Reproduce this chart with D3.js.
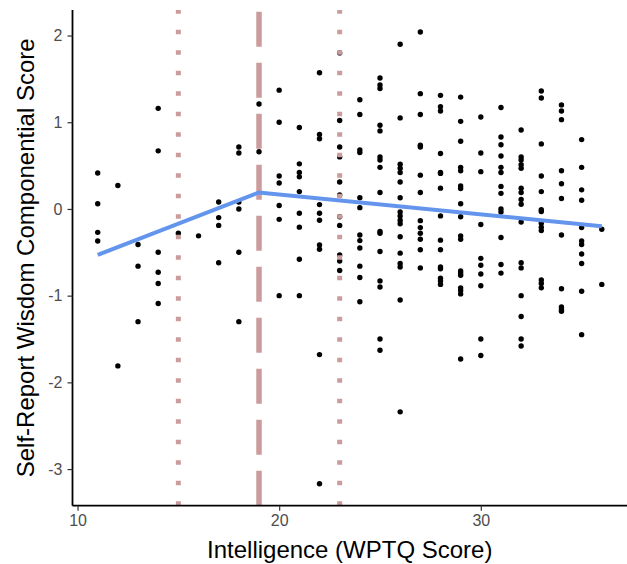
<!DOCTYPE html>
<html>
<head>
<meta charset="utf-8">
<script src="https://cdn.jsdelivr.net/npm/d3@7"></script>
<style>
  body { margin: 0; background: #fff; }
  text { font-family: "Liberation Sans", Arial, sans-serif; }
</style>
</head>
<body>
<svg id="chart"></svg>
<script>
// WPTQ score levels and the wisdom scores observed at each level
const iqLevels = [11, 12, 13, 14, 15, 16, 17, 18, 19, 20, 21, 22, 23, 24, 25, 26, 27, 28, 29, 30, 31, 32, 33, 34, 35, 36]
const wisdomByIq = [
  [0.415, 0.06, -0.27, -0.37],
  [0.27, -1.81],
  [-0.41, -0.66, -1.30],
  [1.16, 0.67, -0.50, -0.73, -0.86, -1.09],
  [-0.28],
  [-0.31],
  [0.08, -0.10, -0.19, -0.62],
  [0.715, 0.645, 0.08, 0.0, -0.50, -1.30],
  [1.21, 0.66],
  [1.37, 1.0, 0.38, 0.30, 0.04, -0.12, -1.0],
  [0.94, 0.52, 0.42, 0.37, 0.20, -0.05, -0.21, -0.58, -1.0],
  [1.57, 0.86, 0.81, 0.05, -0.05, -0.13, -0.415, -0.465, -1.68, -3.17],
  [1.80, 1.02, 0.715, 0.60, 0.31, 0.16, -0.09, -0.19, -0.53, -0.60, -0.71],
  [1.26, 1.09, 0.68, 0.65, 0.13, 0.015, -0.30, -0.365, -0.45, -0.66, -0.79, -1.07],
  [1.51, 1.43, 1.39, 0.965, 0.90, 0.60, 0.565, 0.48, 0.19, -0.26, -0.28, -0.49, -0.83, -0.90, -1.50, -1.63],
  [1.90, 1.05, 0.515, 0.47, 0.42, 0.31, 0.13, -0.035, -0.08, -0.13, -0.17, -0.32, -0.51, -0.63, -0.67, -1.05, -2.34],
  [2.04, 1.33, 1.09, 0.735, 0.715, 0.39, 0.19, -0.135, -0.215, -0.28, -0.35, -0.47, -0.68],
  [1.31, 1.18, 1.13, 0.64, 0.42, 0.41, 0.24, -0.08, -0.36, -0.47, -0.67, -0.69, -0.80, -0.83, -0.87],
  [1.29, 1.01, 0.78, 0.48, 0.44, 0.265, 0.235, 0.06, -0.09, -0.31, -0.35, -0.715, -0.74, -0.765, -0.91, -0.94, -0.98, -1.73],
  [1.06, 0.645, 0.43, -0.18, -0.57, -0.65, -0.75, -0.885, -1.50, -1.69],
  [1.17, 0.83, 0.74, 0.61, 0.48, 0.42, 0.26, 0.18, 0.00, -0.035, -0.33, -0.64, -0.74],
  [0.91, 0.60, 0.565, 0.51, 0.47, 0.24, 0.19, 0.11, 0.055, -0.15, -0.62, -0.68, -1.0, -1.24, -1.50, -1.58],
  [1.36, 1.28, 0.75, 0.38, 0.20, -0.01, -0.03, -0.165, -0.21, -0.25, -0.82, -0.86, -0.91],
  [1.20, 1.13, 1.03, 0.44, 0.29, 0.12, -0.30, -0.92, -1.13, -1.16, -1.18],
  [0.80, 0.48, 0.22, 0.10, -0.215, -0.37, -0.41, -0.52, -0.63, -0.95, -1.45],
  [-0.235, -0.87]
]

// piecewise fit (breakpoint at 19)
const fitX = [11, 19, 36]
const fitY = [-0.53, 0.19, -0.20]

// vertical reference lines
const breakX = 19
const bandX = [15, 23]

const xTicks = [10, 20, 30]
const yTicks = [-3, -2, -1, 0, 1, 2]

var dimensions = {
  width: 627,
  height: 564,
  margin: { top: 10, bottom: 58.3, right: 0, left: 72.5 }
}
dimensions.boundedWidth = dimensions.width - dimensions.margin.left - dimensions.margin.right
dimensions.boundedHeight = dimensions.height - dimensions.margin.top - dimensions.margin.bottom

var points = []
iqLevels.forEach((x, i) => wisdomByIq[i].forEach(y => points.push({ x: x, y: y })))

var xScale = d3.scaleLinear()
  .domain([9.75, 37.25])
  .range([0, dimensions.boundedWidth])

var yScale = d3.scaleLinear()
  .domain([-3.4225, 2.2945])
  .range([dimensions.boundedHeight, 0])

var svg = d3.select("#chart")
  .attr("width", dimensions.width)
  .attr("height", dimensions.height)

var bounds = svg.append("g")
  .attr("transform", `translate(${dimensions.margin.left},${dimensions.margin.top})`)

// points
bounds.append("g")
  .selectAll("circle")
  .data(points)
  .join("circle")
  .attr("cx", d => xScale(d.x))
  .attr("cy", d => yScale(d.y))
  .attr("r", 2.7)
  .attr("fill", "black")

// dotted lines
bounds.append("g")
  .selectAll("line")
  .data(bandX)
  .join("line")
  .attr("x1", d => xScale(d))
  .attr("x2", d => xScale(d))
  .attr("y1", dimensions.boundedHeight)
  .attr("y2", 0)
  .attr("stroke", "#cc9c9c")
  .attr("stroke-width", 5)
  .attr("stroke-dasharray", "4.5,16")

// long dashed line at the break
bounds.append("line")
  .attr("x1", xScale(breakX))
  .attr("x2", xScale(breakX))
  .attr("y1", dimensions.boundedHeight)
  .attr("y2", 0)
  .attr("stroke", "#cc9c9c")
  .attr("stroke-width", 5.5)
  .attr("stroke-dasharray", "35,16")

// fitted line
bounds.append("path")
  .datum(fitX.map((x, i) => [x, fitY[i]]))
  .attr("fill", "none")
  .attr("stroke", "#6495ED")
  .attr("stroke-width", 4)
  .attr("d", d3.line().x(d => xScale(d[0])).y(d => yScale(d[1])))

// axes
var xAxis = d3.axisBottom(xScale).tickValues(xTicks).tickFormat(d => String(d))
  .tickSize(5).tickPadding(4).tickSizeOuter(0)
var yAxis = d3.axisLeft(yScale).tickValues(yTicks).tickFormat(d => String(d))
  .tickSize(5).tickPadding(5).tickSizeOuter(0)

var gx = bounds.append("g")
  .attr("transform", `translate(0,${dimensions.boundedHeight})`)
  .call(xAxis)
var gy = bounds.append("g").call(yAxis)

;[gx, gy].forEach(g => {
  g.select(".domain").attr("stroke", "black").attr("stroke-width", 1.8)
  g.selectAll(".tick line").attr("stroke", "#333").attr("stroke-width", 1.2)
  g.selectAll(".tick text")
    .attr("fill", "#4d4d4d")
    .style("font-size", "16px")
    .style("font-family", "'Liberation Sans', Arial, sans-serif")
})
gx.select(".domain").attr("d", `M0,0H${dimensions.boundedWidth}`)
gy.select(".domain").attr("d", `M0,${dimensions.boundedHeight}V0`)

// axis titles
svg.append("text")
  .attr("x", dimensions.margin.left + dimensions.boundedWidth / 2)
  .attr("y", 558)
  .attr("text-anchor", "middle")
  .style("font-size", "24px")
  .text("Intelligence (WPTQ Score)")

svg.append("text")
  .attr("transform", `translate(33.5,${dimensions.margin.top + dimensions.boundedHeight / 2}) rotate(-90)`)
  .attr("text-anchor", "middle")
  .style("font-size", "24px")
  .text("Self-Report Wisdom Componential Score")
</script>
</body>
</html>
